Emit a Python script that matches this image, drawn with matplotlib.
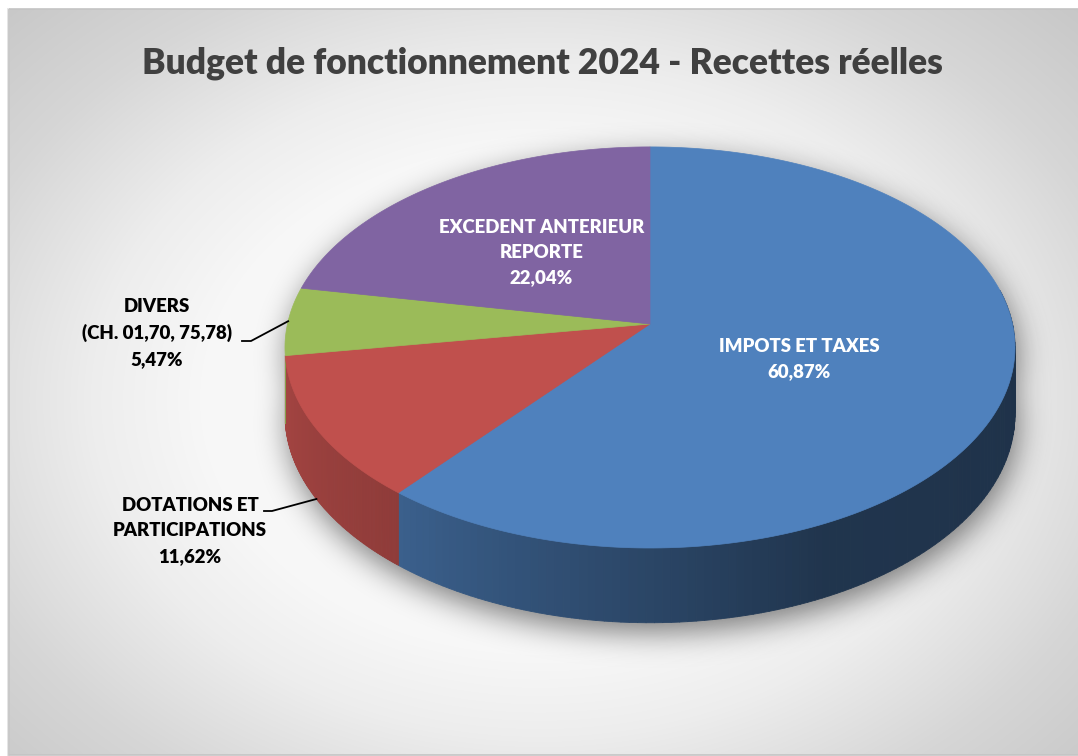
import numpy as np
import matplotlib
matplotlib.use('Agg')
import matplotlib.pyplot as plt
from matplotlib.path import Path
from matplotlib.collections import PolyCollection
from matplotlib.patches import Polygon, Rectangle

# ------------------------------------------------------------------ data
title = 'Budget de fonctionnement 2024 - Recettes réelles'
categories = ['IMPOTS ET TAXES', 'DOTATIONS ET\nPARTICIPATIONS',
              'DIVERS\n(CH. 01,70, 75,78)', 'EXCEDENT ANTERIEUR\nREPORTE']
values = [60.87, 11.62, 5.47, 22.04]
pct_labels = ['60,87%', '11,62%', '5,47%', '22,04%']
colors = ['#4f81bd', '#c0504d', '#9bbb59', '#8064a2']

# ------------------------------------------------------------------ layout (pixels)
W, H = 1078, 756
CX, CY = 650, 324          # centre of top face
RX, RY = 362.5, 197.8      # radii
DEPTH = 66                 # thickness
K = 0.117                  # perspective
FRONT = (-171, 10)         # visible side range (deg)
inside = [True, False, False, True]
label_r = [0.43, None, None, 0.49]
label_dy = [6, 0, 0, 0]
outside_pos = {1: (190, 531), 2: (157, 333)}
elbow = {1: ((264, 511), (272, 511)), 2: ((242, 341), (251, 341))}

plt.rcParams['font.family'] = ['Lato', 'DejaVu Sans']


def project(theta, r=1.0, z=0.0):
    t = np.radians(theta)
    u = r * np.cos(t)
    v = r * np.sin(t)
    w = 1 + K * v
    return CX + RX * u / w, CY - RY * v / w + DEPTH * z / w


def shade(theta):
    phi = np.mod(theta, 360)
    phi = np.where(phi < 90, phi + 360, phi)
    return np.interp(phi, [170, 189, 230, 295, 370], [0.88, 0.86, 0.75, 0.41, 0.38])


def blur(img, s):
    k = np.exp(-0.5 * (np.arange(-3 * s, 3 * s + 1) / s) ** 2)
    k /= k.sum()
    img = np.apply_along_axis(lambda r: np.convolve(r, k, mode='same'), 1, img)
    img = np.apply_along_axis(lambda c: np.convolve(c, k, mode='same'), 0, img)
    return img


fig = plt.figure(figsize=(W / 100, H / 100), dpi=100)
ax = fig.add_axes([0, 0, 1, 1])
ax.set_xlim(0, W)
ax.set_ylim(H, 0)
ax.axis('off')

# background gradient
X, Y = np.meshgrid(np.arange(W) + 0.5, np.arange(H) + 0.5)
d = np.sqrt(((X - 540) / 560) ** 2 + ((Y - 400) / 420) ** 2)
g = np.interp(d, [0, 0.6, 0.8, 1.08, 1.35], [0.98, 0.97, 0.93, 0.84, 0.78])
bg = np.dstack([g, g, g])
ax.imshow(bg[9:755, 9:], extent=[9, W, 755, 9], zorder=0, interpolation='bilinear')
ax.plot([7.5, 7.5], [9, 755], color='#e2e2e2', lw=2, zorder=1)
ax.add_patch(Rectangle((9, 9), W, 746, fill=False, ec='#c4c4c4', lw=1.2, zorder=1))

# angles
frac = np.array(values) / np.sum(values) * 360
ends = 90 - np.cumsum(frac)
starts = np.concatenate([[90], ends[:-1]])

# shadow
ta = np.linspace(0, 360, 400)
top_outline = np.column_stack(project(ta, 1, 0))
bot_outline = np.column_stack(project(ta, 1, 1))
pts = np.column_stack([X.ravel() - 3, Y.ravel() - 10])
mask = Path(top_outline).contains_points(pts) | Path(bot_outline).contains_points(pts)
mask = mask.reshape(H, W).astype(float)
sh = blur(mask, 15)
rgba = np.zeros((H, W, 4))
rgba[..., 3] = sh * 0.5
ax.imshow(rgba, extent=[0, W, H, 0], zorder=1.5, interpolation='bilinear')

# side faces
quads, qcols = [], []
for a0, a1, col in zip(starts, ends, colors):
    lo, hi = max(a1, FRONT[0]), min(a0, FRONT[1])
    if hi <= lo:
        continue
    th = np.linspace(lo, hi, 120)
    base = np.array(matplotlib.colors.to_rgb(col))
    for t0, t1 in zip(th[:-1], th[1:]):
        p = [project(t0, 1, 0), project(t1, 1, 0), project(t1, 1, 1), project(t0, 1, 1)]
        quads.append(p)
        qcols.append(base * shade((t0 + t1) / 2))
ax.add_collection(PolyCollection(quads, facecolors=qcols, edgecolors=qcols, lw=0.6, zorder=2))

# top faces
for a0, a1, col in zip(starts, ends, colors):
    th = np.linspace(a0, a1, 200)
    xs, ys = project(th, 1, 0)
    poly = np.vstack([[CX, CY], np.column_stack([xs, ys])])
    ax.add_patch(Polygon(poly, closed=True, fc=col, ec=col, lw=0.5, zorder=3))

# labels
for i, (cat, pct) in enumerate(zip(categories, pct_labels)):
    mid = (starts[i] + ends[i]) / 2
    txt = cat + '\n' + pct
    if inside[i]:
        x, y = project(mid, label_r[i], 0)
        ax.text(x, y + label_dy[i], txt, color='white', fontsize=13.4, fontweight='heavy',
                ha='center', va='center', multialignment='center', linespacing=1.6, zorder=5)
    else:
        x, y = outside_pos[i]
        ax.text(x, y, txt, color='#000000', fontsize=13.4, fontweight='heavy',
                ha='center', va='center', multialignment='center', linespacing=1.6, zorder=5)
        ex, ey = project(mid, 1, 1 if i == 1 else 0)
        (p0, p1) = elbow[i]
        ax.plot([p0[0], p1[0], ex], [p0[1], p1[1], ey], color='black', lw=1.3, zorder=4)

ax.text(542, 63, title, color='#404040', fontsize=25.5, fontweight='heavy',
        ha='center', va='center', zorder=5)

fig.savefig('out.png', dpi=100)
